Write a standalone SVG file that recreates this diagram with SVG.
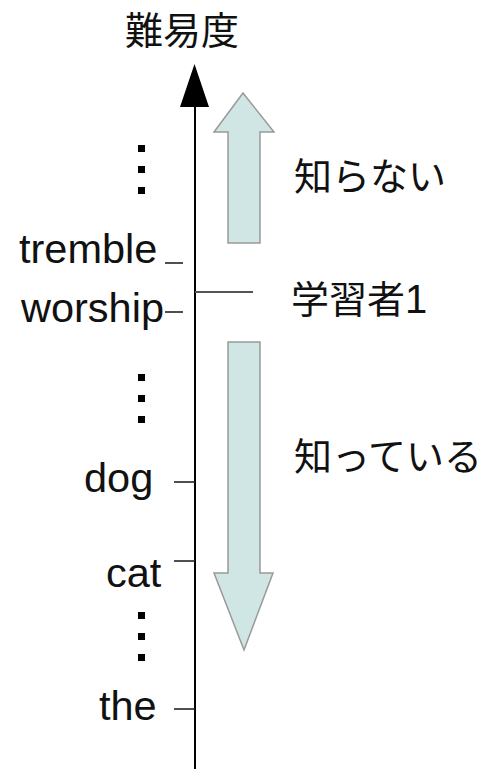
<svg xmlns="http://www.w3.org/2000/svg" width="483" height="769" viewBox="0 0 483 769">
<style>
.lbl{font-family:"Liberation Sans",Arial,sans-serif;font-size:41.5px;fill:#111}
.jp{font-family:"Noto Sans CJK JP","Noto Sans CJK SC",sans-serif;font-size:38px;fill:#111}
.tick{stroke:#222;stroke-width:1.6}
.big{fill:#cfe6e4;stroke:#999;stroke-width:1.5}
.dot{fill:#000}
</style>
<rect width="483" height="769" fill="#fff"/>
<g id="title"><text class="jp" x="182" y="44" text-anchor="middle" font-size="40">難易度</text></g>
<g id="connectors">
<line x1="195" y1="100" x2="195" y2="769" stroke="#000" stroke-width="2"/>
<polygon points="194.5,64 180,107 209,107" fill="#000"/>
<line class="tick" x1="165" y1="263" x2="183" y2="263"/>
<line class="tick" x1="165" y1="312" x2="183" y2="312"/>
<line class="tick" x1="174" y1="482" x2="195" y2="482"/>
<line class="tick" x1="174" y1="561" x2="195" y2="561"/>
<line class="tick" x1="174" y1="709" x2="195" y2="709"/>
<line x1="195" y1="292" x2="253" y2="292" stroke="#555" stroke-width="2"/>
</g>
<g id="arrow-up"><polygon class="big" points="243,93 274,132 260,132 260,243 228,243 228,132 214,132"/></g>
<g id="arrow-down"><polygon class="big" points="228,342 260,342 260,573 273,573 244,650 214,573 228,573"/></g>
<g id="dots-top"><rect class="dot" x="138" y="145" width="7" height="7"/><rect class="dot" x="138" y="166" width="7" height="7"/><rect class="dot" x="138" y="187" width="7" height="7"/></g>
<g id="dots-mid"><rect class="dot" x="138" y="374" width="7" height="7"/><rect class="dot" x="138" y="395" width="7" height="7"/><rect class="dot" x="138" y="416" width="7" height="7"/></g>
<g id="dots-bot"><rect class="dot" x="138" y="612" width="7" height="7"/><rect class="dot" x="138" y="633" width="7" height="7"/><rect class="dot" x="138" y="654" width="7" height="7"/></g>
<g id="tremble"><text class="lbl" x="19" y="263">tremble</text></g>
<g id="worship"><text class="lbl" x="21" y="322">worship</text></g>
<g id="dog"><text class="lbl" x="84" y="492">dog</text></g>
<g id="cat"><text class="lbl" x="106" y="587">cat</text></g>
<g id="the"><text class="lbl" x="99" y="720">the</text></g>
<g id="unknown"><text class="jp" x="294" y="190">知らない</text></g>
<g id="learner"><text class="jp" x="291" y="313">学習者<tspan font-family="Liberation Sans, Arial, sans-serif" font-size="40">1</tspan></text></g>
<g id="known"><text class="jp" x="294" y="470">知っている</text></g>
</svg>
